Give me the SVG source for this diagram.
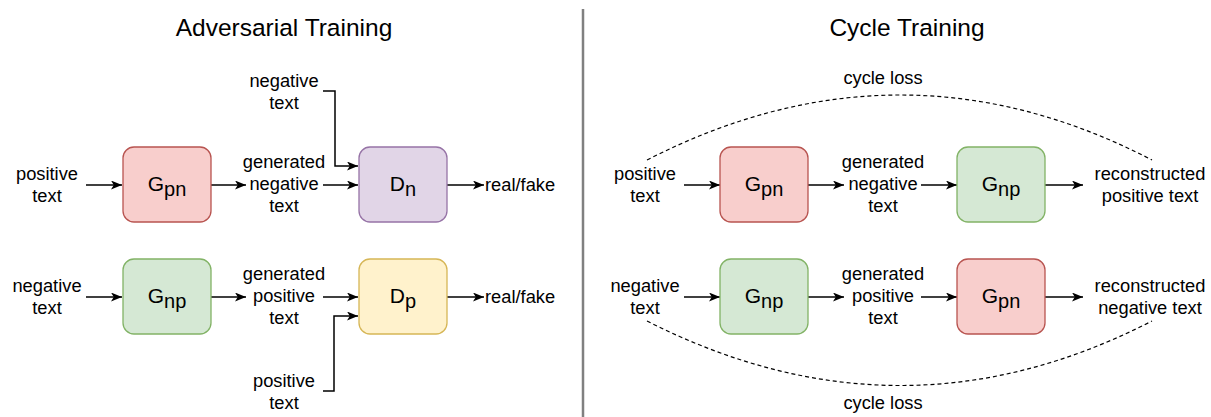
<svg xmlns="http://www.w3.org/2000/svg" width="1211" height="417" viewBox="0 0 1211 417">
  <style>
    text { font-family: "Liberation Sans", Arial, Helvetica, sans-serif; fill: #000; }
    .title { font-size: 24.5px; text-anchor: middle; }
    .lbl { font-size: 18.3px; text-anchor: middle; }
    .nl { font-size: 21px; text-anchor: middle; }
    .box { stroke-width: 1.3; }
    .red { fill: #f8cecc; stroke: #b85450; }
    .green { fill: #d5e8d4; stroke: #82b366; }
    .purple { fill: #e1d5e7; stroke: #9673a6; }
    .yellow { fill: #fff2cc; stroke: #d6b656; }
    .edge { fill: none; stroke: #000; stroke-width: 1.5; marker-end: url(#arrow); }
    .loss { fill: none; stroke: #000; stroke-width: 1.2; stroke-dasharray: 4 3; }
  </style>
  <defs>
    <marker id="arrow" viewBox="0 0 11 9" refX="11" refY="4.5" markerWidth="11" markerHeight="9" markerUnits="userSpaceOnUse" orient="auto">
      <path d="M0,0 L11,4.5 L0,9 L2.8,4.5 Z" fill="#000"/>
    </marker>
  </defs>

  <rect width="1211" height="417" fill="#fff"/>

  <!-- section titles and divider -->
  <text class="title" x="284" y="36">Adversarial Training</text>
  <text class="title" x="907" y="36">Cycle Training</text>
  <line x1="583" y1="9" x2="583" y2="417" stroke="#808080" stroke-width="2.5"/>

  <!-- connectors -->
  <g id="connectors">
    <!-- adversarial, top row -->
    <line class="edge" x1="86" y1="185" x2="122" y2="185"/>
    <line class="edge" x1="211" y1="185" x2="246" y2="185"/>
    <line class="edge" x1="323" y1="185" x2="358" y2="185"/>
    <path class="edge" d="M323,91 H335 V166 H358"/>
    <line class="edge" x1="447" y1="185" x2="484" y2="185"/>
    <!-- adversarial, bottom row -->
    <line class="edge" x1="86" y1="297" x2="122" y2="297"/>
    <line class="edge" x1="211" y1="297" x2="246" y2="297"/>
    <line class="edge" x1="323" y1="297" x2="358" y2="297"/>
    <path class="edge" d="M323,391 H334 V316 H358"/>
    <line class="edge" x1="447" y1="297" x2="484" y2="297"/>
    <!-- cycle, top row -->
    <line class="edge" x1="684" y1="185" x2="720" y2="185"/>
    <line class="edge" x1="808" y1="185" x2="844" y2="185"/>
    <line class="edge" x1="921" y1="185" x2="957" y2="185"/>
    <line class="edge" x1="1045" y1="185" x2="1083" y2="185"/>
    <!-- cycle, bottom row -->
    <line class="edge" x1="684" y1="297" x2="720" y2="297"/>
    <line class="edge" x1="808" y1="297" x2="844" y2="297"/>
    <line class="edge" x1="921" y1="297" x2="957" y2="297"/>
    <line class="edge" x1="1045" y1="297" x2="1083" y2="297"/>
    <!-- cycle loss arcs -->
    <path class="loss" d="M647,160 Q901,30 1152,160"/>
    <path class="loss" d="M647,321 Q901,450 1152,321"/>
  </g>

  <!-- adversarial training -->
  <g id="adv-pos-in">
    <text class="lbl" x="47" y="180">positive</text>
    <text class="lbl" x="47" y="202">text</text>
  </g>
  <g id="adv-gpn">
    <rect class="box red" x="123" y="147" width="88" height="75" rx="11"/>
    <text class="nl" x="167" y="191">G<tspan dy="5" font-size="20">pn</tspan></text>
  </g>
  <g id="adv-gen-neg">
    <text class="lbl" x="284" y="168">generated</text>
    <text class="lbl" x="284" y="190">negative</text>
    <text class="lbl" x="284" y="212">text</text>
  </g>
  <g id="adv-neg-real">
    <text class="lbl" x="284" y="87">negative</text>
    <text class="lbl" x="284" y="109">text</text>
  </g>
  <g id="adv-dn">
    <rect class="box purple" x="359" y="147" width="88" height="75" rx="11"/>
    <text class="nl" x="403" y="191">D<tspan dy="5" font-size="20">n</tspan></text>
  </g>
  <g id="adv-out-n">
    <text x="485" y="191" font-size="18.3">real/fake</text>
  </g>

  <g id="adv-neg-in">
    <text class="lbl" x="47" y="292">negative</text>
    <text class="lbl" x="47" y="314">text</text>
  </g>
  <g id="adv-gnp">
    <rect class="box green" x="123" y="259" width="88" height="75" rx="11"/>
    <text class="nl" x="167" y="303">G<tspan dy="5" font-size="20">np</tspan></text>
  </g>
  <g id="adv-gen-pos">
    <text class="lbl" x="284" y="280">generated</text>
    <text class="lbl" x="284" y="302">positive</text>
    <text class="lbl" x="284" y="324">text</text>
  </g>
  <g id="adv-pos-real">
    <text class="lbl" x="284" y="387">positive</text>
    <text class="lbl" x="284" y="409">text</text>
  </g>
  <g id="adv-dp">
    <rect class="box yellow" x="359" y="259" width="88" height="75" rx="11"/>
    <text class="nl" x="403" y="303">D<tspan dy="5" font-size="20">p</tspan></text>
  </g>
  <g id="adv-out-p">
    <text x="485" y="303" font-size="18.3">real/fake</text>
  </g>

  <!-- cycle training -->
  <g id="cyc-loss-top">
    <text class="lbl" x="883" y="84">cycle loss</text>
  </g>
  <g id="cyc-pos-in">
    <text class="lbl" x="645" y="180">positive</text>
    <text class="lbl" x="645" y="202">text</text>
  </g>
  <g id="cyc-gpn-1">
    <rect class="box red" x="720" y="147" width="88" height="75" rx="11"/>
    <text class="nl" x="764" y="191">G<tspan dy="5" font-size="20">pn</tspan></text>
  </g>
  <g id="cyc-gen-neg">
    <text class="lbl" x="883" y="168">generated</text>
    <text class="lbl" x="883" y="190">negative</text>
    <text class="lbl" x="883" y="212">text</text>
  </g>
  <g id="cyc-gnp-1">
    <rect class="box green" x="957" y="147" width="88" height="75" rx="11"/>
    <text class="nl" x="1001" y="191">G<tspan dy="5" font-size="20">np</tspan></text>
  </g>
  <g id="cyc-rec-pos">
    <text class="lbl" x="1150" y="180">reconstructed</text>
    <text class="lbl" x="1150" y="202">positive text</text>
  </g>

  <g id="cyc-neg-in">
    <text class="lbl" x="645" y="292">negative</text>
    <text class="lbl" x="645" y="314">text</text>
  </g>
  <g id="cyc-gnp-2">
    <rect class="box green" x="720" y="259" width="88" height="75" rx="11"/>
    <text class="nl" x="764" y="303">G<tspan dy="5" font-size="20">np</tspan></text>
  </g>
  <g id="cyc-gen-pos">
    <text class="lbl" x="883" y="280">generated</text>
    <text class="lbl" x="883" y="302">positive</text>
    <text class="lbl" x="883" y="324">text</text>
  </g>
  <g id="cyc-gpn-2">
    <rect class="box red" x="957" y="259" width="88" height="75" rx="11"/>
    <text class="nl" x="1001" y="303">G<tspan dy="5" font-size="20">pn</tspan></text>
  </g>
  <g id="cyc-rec-neg">
    <text class="lbl" x="1150" y="292">reconstructed</text>
    <text class="lbl" x="1150" y="314">negative text</text>
  </g>
  <g id="cyc-loss-bottom">
    <text class="lbl" x="883" y="409">cycle loss</text>
  </g>
</svg>
